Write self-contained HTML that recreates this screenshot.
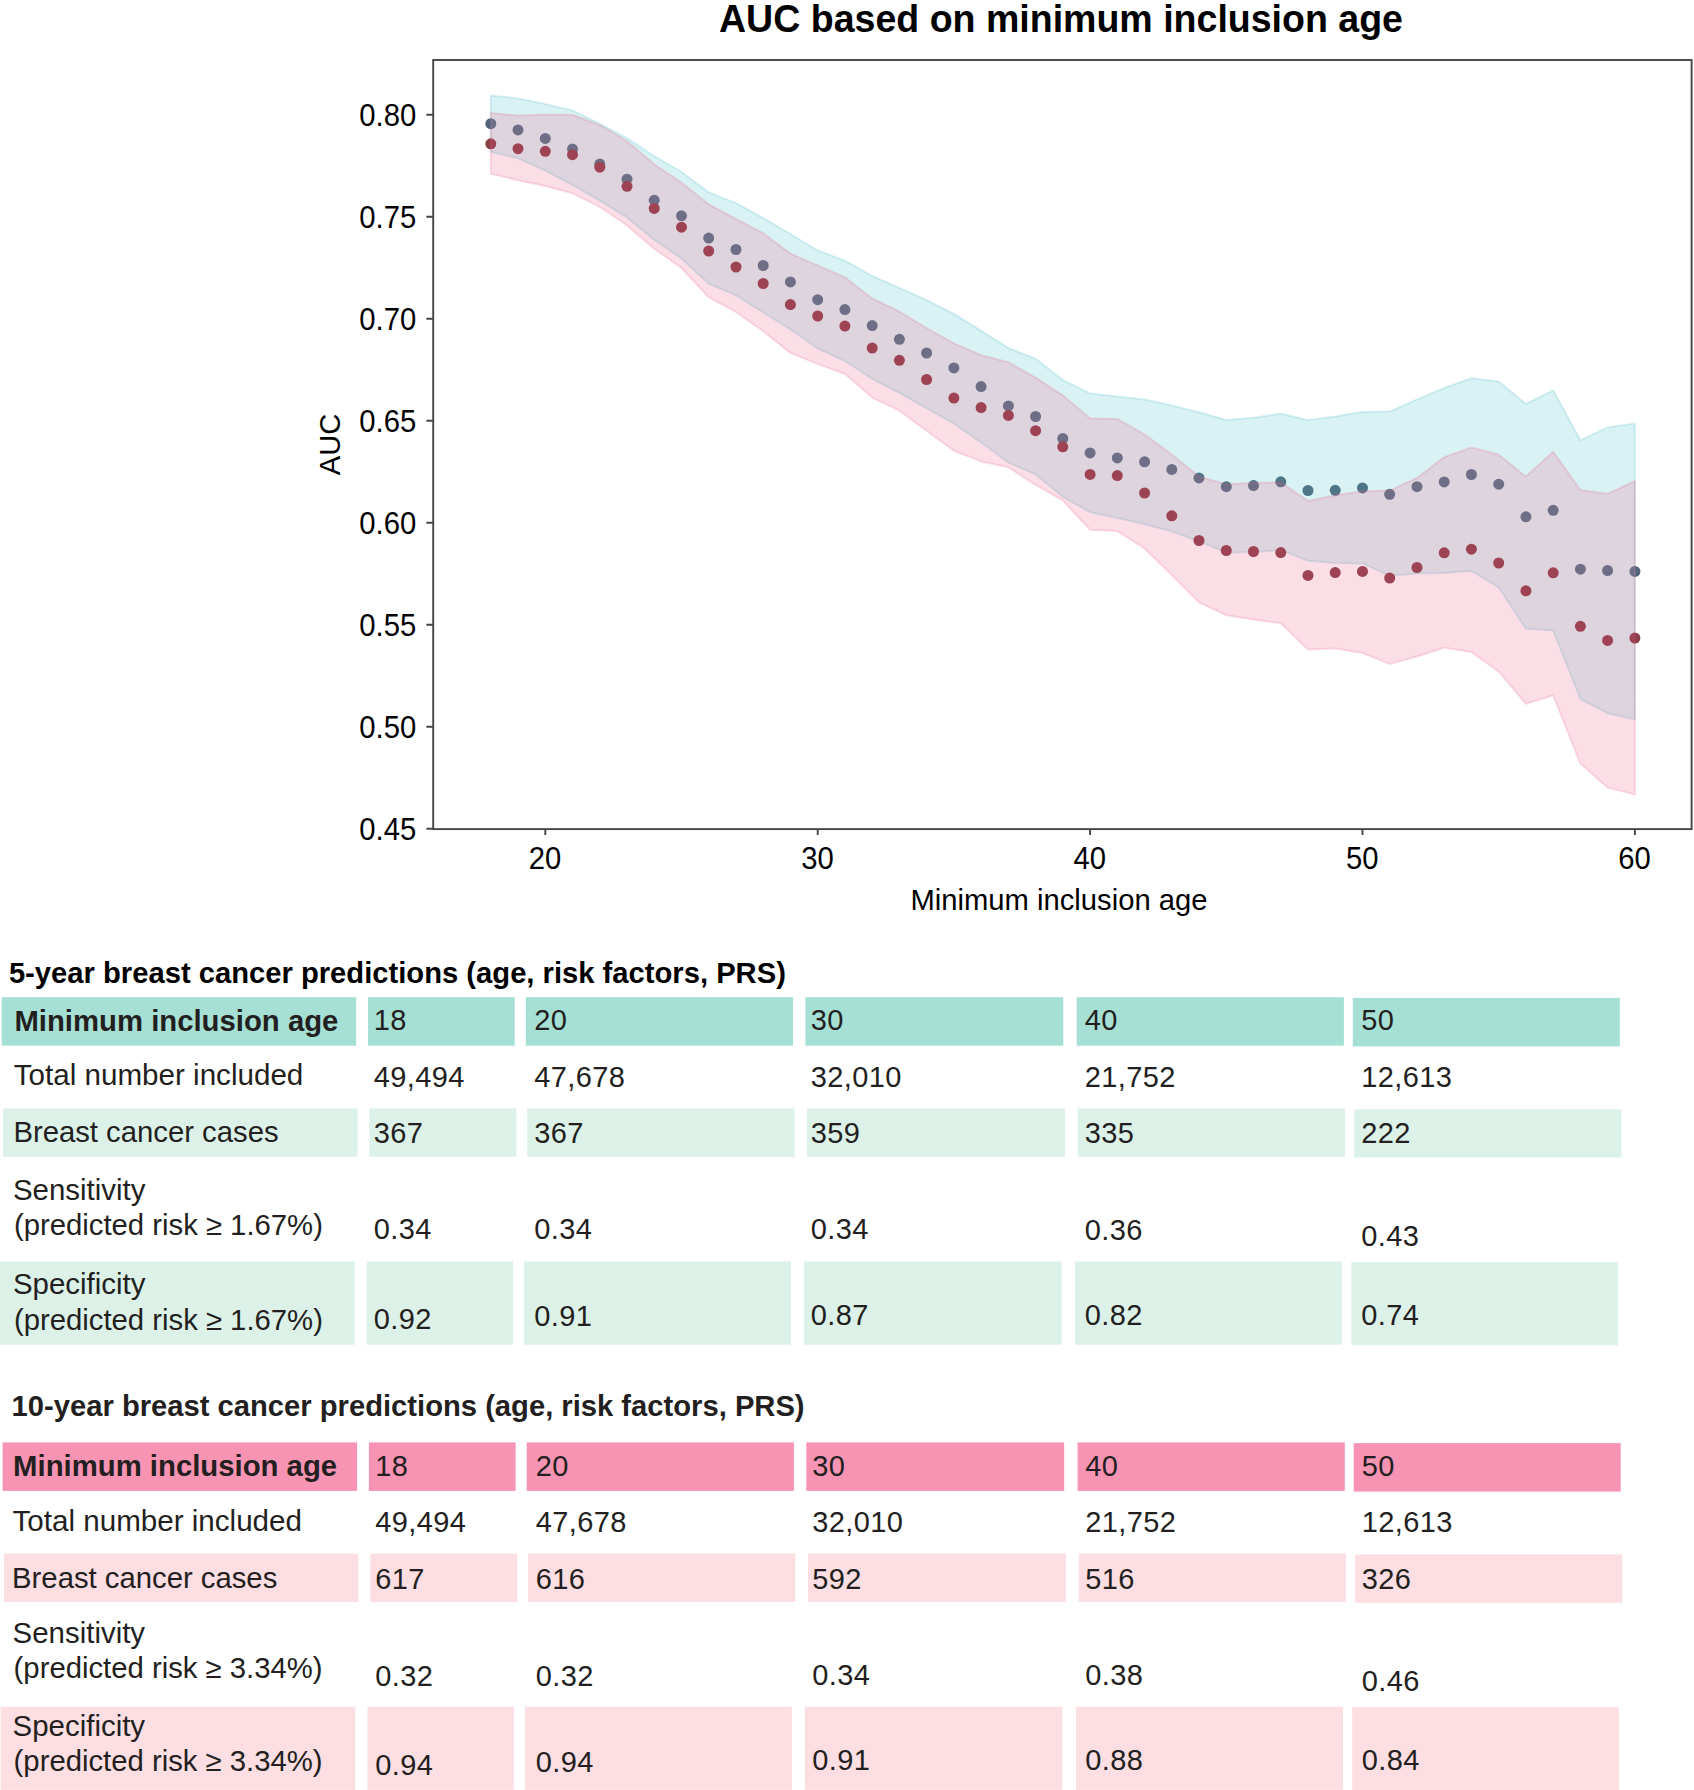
<!DOCTYPE html>
<html lang="en"><head><meta charset="utf-8"><title>AUC based on minimum inclusion age</title>
<style>html,body{margin:0;padding:0;background:#fff}svg{display:block}text{font-family:"Liberation Sans",sans-serif;fill:#231f20}.ax{font-size:30.5px;fill:#000}.tb{font-size:29px}.b{font-weight:bold}.tb.b{font-size:29.5px}</style></head><body>
<svg width="1694" height="1790" viewBox="0 0 1694 1790">
<rect width="1694" height="1790" fill="#fff"/>
<g id="chart">
<g fill="#526278"><circle cx="490.8" cy="123.7" r="5.5"/><circle cx="518.0" cy="129.9" r="5.5"/><circle cx="545.3" cy="138.4" r="5.5"/><circle cx="572.5" cy="149.1" r="5.5"/><circle cx="599.8" cy="164.1" r="5.5"/><circle cx="627.0" cy="179.2" r="5.5"/><circle cx="654.2" cy="200.3" r="5.5"/><circle cx="681.5" cy="215.8" r="5.5"/><circle cx="708.7" cy="238.1" r="5.5"/><circle cx="736.0" cy="249.5" r="5.5"/><circle cx="763.2" cy="265.5" r="5.5"/><circle cx="790.4" cy="281.9" r="5.5"/><circle cx="817.7" cy="299.7" r="5.5"/><circle cx="844.9" cy="309.6" r="5.5"/><circle cx="872.2" cy="325.6" r="5.5"/><circle cx="899.4" cy="339.3" r="5.5"/><circle cx="926.6" cy="353.0" r="5.5"/><circle cx="953.9" cy="367.9" r="5.5"/><circle cx="981.1" cy="386.6" r="5.5"/><circle cx="1008.4" cy="405.9" r="5.5"/><circle cx="1035.6" cy="416.5" r="5.5"/><circle cx="1062.8" cy="438.5" r="5.5"/><circle cx="1090.1" cy="452.9" r="5.5"/><circle cx="1117.3" cy="457.9" r="5.5"/><circle cx="1144.6" cy="461.8" r="5.5"/><circle cx="1171.8" cy="469.4" r="5.5"/><circle cx="1199.0" cy="477.9" r="5.5"/><circle cx="1226.3" cy="486.7" r="5.5"/><circle cx="1253.5" cy="485.6" r="5.5"/><circle cx="1280.8" cy="481.8" r="5.5"/><circle cx="1308.0" cy="490.5" r="5.5"/><circle cx="1335.2" cy="490.3" r="5.5"/><circle cx="1362.5" cy="487.9" r="5.5"/><circle cx="1389.7" cy="494.3" r="5.5"/><circle cx="1417.0" cy="486.7" r="5.5"/><circle cx="1444.2" cy="481.9" r="5.5"/><circle cx="1471.4" cy="474.5" r="5.5"/><circle cx="1498.7" cy="484.2" r="5.5"/><circle cx="1525.9" cy="516.8" r="5.5"/><circle cx="1553.2" cy="510.3" r="5.5"/><circle cx="1580.4" cy="569.2" r="5.5"/><circle cx="1607.6" cy="570.5" r="5.5"/><circle cx="1634.9" cy="571.4" r="5.5"/></g>
<polygon points="490.8,95.4 518.0,98.5 545.3,104.1 572.5,110.4 599.8,123.8 627.0,138.2 654.2,156.2 681.5,172.0 708.7,192.4 736.0,203.1 763.2,218.1 790.4,234.0 817.7,250.5 844.9,260.7 872.2,276.0 899.4,287.9 926.6,300.1 953.9,313.8 981.1,330.8 1008.4,348.1 1035.6,358.7 1062.8,379.9 1090.1,393.4 1117.3,396.5 1144.6,399.5 1171.8,405.4 1199.0,412.3 1226.3,420.0 1253.5,417.8 1280.8,413.7 1308.0,420.0 1335.2,416.4 1362.5,412.0 1389.7,411.6 1417.0,399.4 1444.2,388.1 1471.4,378.3 1498.7,381.5 1525.9,404.0 1553.2,390.4 1580.4,440.3 1607.6,427.4 1634.9,423.5 1634.9,719.4 1607.6,713.2 1580.4,699.0 1553.2,630.6 1525.9,628.8 1498.7,587.4 1471.4,571.0 1444.2,573.0 1417.0,573.5 1389.7,575.8 1362.5,563.4 1335.2,563.0 1308.0,560.7 1280.8,550.1 1253.5,551.9 1226.3,552.8 1199.0,541.2 1171.8,531.5 1144.6,524.2 1117.3,518.1 1090.1,512.2 1062.8,496.8 1035.6,474.4 1008.4,462.6 981.1,442.5 953.9,423.6 926.6,408.3 899.4,392.9 872.2,378.8 844.9,361.0 817.7,348.5 790.4,329.5 763.2,312.5 736.0,295.4 708.7,283.7 681.5,258.4 654.2,240.0 627.0,217.4 599.8,200.7 572.5,185.0 545.3,170.5 518.0,158.4 490.8,151.8" fill="#41c3c8" fill-opacity="0.2" stroke="#41b4c8" stroke-opacity="0.2" stroke-width="2" stroke-linejoin="round"/>
<g fill="#893e47"><circle cx="490.8" cy="143.8" r="5.5"/><circle cx="518.0" cy="148.7" r="5.5"/><circle cx="545.3" cy="151.3" r="5.5"/><circle cx="572.5" cy="154.7" r="5.5"/><circle cx="599.8" cy="167.2" r="5.5"/><circle cx="627.0" cy="186.3" r="5.5"/><circle cx="654.2" cy="208.4" r="5.5"/><circle cx="681.5" cy="227.2" r="5.5"/><circle cx="708.7" cy="251.0" r="5.5"/><circle cx="736.0" cy="267.0" r="5.5"/><circle cx="763.2" cy="283.5" r="5.5"/><circle cx="790.4" cy="304.6" r="5.5"/><circle cx="817.7" cy="316.0" r="5.5"/><circle cx="844.9" cy="326.1" r="5.5"/><circle cx="872.2" cy="348.1" r="5.5"/><circle cx="899.4" cy="360.3" r="5.5"/><circle cx="926.6" cy="379.5" r="5.5"/><circle cx="953.9" cy="398.1" r="5.5"/><circle cx="981.1" cy="407.6" r="5.5"/><circle cx="1008.4" cy="415.4" r="5.5"/><circle cx="1035.6" cy="430.7" r="5.5"/><circle cx="1062.8" cy="446.8" r="5.5"/><circle cx="1090.1" cy="474.4" r="5.5"/><circle cx="1117.3" cy="475.6" r="5.5"/><circle cx="1144.6" cy="493.0" r="5.5"/><circle cx="1171.8" cy="515.8" r="5.5"/><circle cx="1199.0" cy="540.5" r="5.5"/><circle cx="1226.3" cy="550.5" r="5.5"/><circle cx="1253.5" cy="551.5" r="5.5"/><circle cx="1280.8" cy="552.6" r="5.5"/><circle cx="1308.0" cy="575.4" r="5.5"/><circle cx="1335.2" cy="572.6" r="5.5"/><circle cx="1362.5" cy="571.4" r="5.5"/><circle cx="1389.7" cy="578.1" r="5.5"/><circle cx="1417.0" cy="567.5" r="5.5"/><circle cx="1444.2" cy="552.8" r="5.5"/><circle cx="1471.4" cy="549.2" r="5.5"/><circle cx="1498.7" cy="563.0" r="5.5"/><circle cx="1525.9" cy="590.8" r="5.5"/><circle cx="1553.2" cy="572.8" r="5.5"/><circle cx="1580.4" cy="626.3" r="5.5"/><circle cx="1607.6" cy="640.4" r="5.5"/><circle cx="1634.9" cy="638.1" r="5.5"/></g>
<polygon points="490.8,112.9 518.0,115.5 545.3,114.6 572.5,114.8 599.8,125.2 627.0,141.0 654.2,164.3 681.5,182.5 708.7,204.3 736.0,219.0 763.2,233.2 790.4,253.6 817.7,265.4 844.9,277.2 872.2,298.5 899.4,311.5 926.6,328.0 953.9,343.3 981.1,355.1 1008.4,362.2 1035.6,377.6 1062.8,395.3 1090.1,418.2 1117.3,418.9 1144.6,434.4 1171.8,454.5 1199.0,476.6 1226.3,484.2 1253.5,482.8 1280.8,482.3 1308.0,500.9 1335.2,495.2 1362.5,491.3 1389.7,490.4 1417.0,478.0 1444.2,457.1 1471.4,447.4 1498.7,454.5 1525.9,476.6 1553.2,451.8 1580.4,489.9 1607.6,493.8 1634.9,481.0 1634.9,794.6 1607.6,787.6 1580.4,763.6 1553.2,695.5 1525.9,703.8 1498.7,671.6 1471.4,652.1 1444.2,647.7 1417.0,656.5 1389.7,664.1 1362.5,653.0 1335.2,648.5 1308.0,649.6 1280.8,623.2 1253.5,619.6 1226.3,615.2 1199.0,602.4 1171.8,575.0 1144.6,548.5 1117.3,531.1 1090.1,529.9 1062.8,500.4 1035.6,485.0 1008.4,467.3 981.1,461.4 953.9,450.8 926.6,430.7 899.4,410.6 872.2,397.6 844.9,374.0 817.7,364.1 790.4,352.9 763.2,331.2 736.0,312.0 708.7,297.3 681.5,268.0 654.2,248.8 627.0,225.5 599.8,206.8 572.5,193.3 545.3,186.0 518.0,180.2 490.8,173.9" fill="#f05a87" fill-opacity="0.2" stroke="#e8608a" stroke-opacity="0.2" stroke-width="2" stroke-linejoin="round"/>
<rect x="433.2" y="60.0" width="1258.4" height="769.1" fill="none" stroke="#464646" stroke-width="1.9"/>
<path d="M426.4,114.8H433.2M426.4,216.8H433.2M426.4,318.8H433.2M426.4,420.8H433.2M426.4,522.8H433.2M426.4,624.8H433.2M426.4,726.8H433.2M426.4,828.8H433.2M545.3,829.1V835.1M817.7,829.1V835.1M1090.1,829.1V835.1M1362.5,829.1V835.1M1634.9,829.1V835.1" stroke="#464646" stroke-width="1.9" fill="none"/>
<text class="ax" x="416.3" y="125.7" text-anchor="end" textLength="57" lengthAdjust="spacingAndGlyphs">0.80</text>
<text class="ax" x="416.3" y="227.7" text-anchor="end" textLength="57" lengthAdjust="spacingAndGlyphs">0.75</text>
<text class="ax" x="416.3" y="329.7" text-anchor="end" textLength="57" lengthAdjust="spacingAndGlyphs">0.70</text>
<text class="ax" x="416.3" y="431.7" text-anchor="end" textLength="57" lengthAdjust="spacingAndGlyphs">0.65</text>
<text class="ax" x="416.3" y="533.7" text-anchor="end" textLength="57" lengthAdjust="spacingAndGlyphs">0.60</text>
<text class="ax" x="416.3" y="635.7" text-anchor="end" textLength="57" lengthAdjust="spacingAndGlyphs">0.55</text>
<text class="ax" x="416.3" y="737.7" text-anchor="end" textLength="57" lengthAdjust="spacingAndGlyphs">0.50</text>
<text class="ax" x="416.3" y="839.7" text-anchor="end" textLength="57" lengthAdjust="spacingAndGlyphs">0.45</text>
<text class="ax" x="545.0" y="869.0" text-anchor="middle" textLength="32.5" lengthAdjust="spacingAndGlyphs">20</text>
<text class="ax" x="817.4" y="869.0" text-anchor="middle" textLength="32.5" lengthAdjust="spacingAndGlyphs">30</text>
<text class="ax" x="1089.8" y="869.0" text-anchor="middle" textLength="32.5" lengthAdjust="spacingAndGlyphs">40</text>
<text class="ax" x="1362.2" y="869.0" text-anchor="middle" textLength="32.5" lengthAdjust="spacingAndGlyphs">50</text>
<text class="ax" x="1634.6" y="869.0" text-anchor="middle" textLength="32.5" lengthAdjust="spacingAndGlyphs">60</text>
<text class="ax" x="1059" y="909.8" text-anchor="middle" textLength="297" lengthAdjust="spacingAndGlyphs" style="font-size:30px">Minimum inclusion age</text>
<text class="ax" transform="translate(340.2,444.4) rotate(-90)" text-anchor="middle" textLength="61.5" lengthAdjust="spacingAndGlyphs" style="font-size:29.5px">AUC</text>
<text class="b" x="1061" y="32" text-anchor="middle" textLength="684" lengthAdjust="spacingAndGlyphs" style="font-size:38px;fill:#000">AUC based on minimum inclusion age</text>
</g>
<g>
<text class="b" x="8.9" y="982.7" textLength="777" lengthAdjust="spacingAndGlyphs" style="font-size:29.5px;fill:#000">5-year breast cancer predictions (age, risk factors, PRS)</text>
<rect x="1.7" y="997.2" width="354.5" height="48.5" fill="#a6e0d4"/>
<rect x="368.0" y="997.2" width="146.7" height="48.5" fill="#a6e0d4"/>
<rect x="525.8" y="997.2" width="267.2" height="48.5" fill="#a6e0d4"/>
<rect x="805.4" y="997.2" width="257.9" height="48.5" fill="#a6e0d4"/>
<rect x="1076.7" y="997.2" width="267.2" height="48.5" fill="#a6e0d4"/>
<rect x="1352.8" y="997.9" width="267.0" height="48.5" fill="#a6e0d4"/>
<rect x="3.1" y="1108.4" width="354.4" height="48.4" fill="#dcf2e9"/>
<rect x="369.5" y="1108.4" width="146.9" height="48.4" fill="#dcf2e9"/>
<rect x="527.2" y="1108.4" width="267.3" height="48.4" fill="#dcf2e9"/>
<rect x="807.0" y="1108.4" width="258.0" height="48.4" fill="#dcf2e9"/>
<rect x="1077.8" y="1108.4" width="267.2" height="48.4" fill="#dcf2e9"/>
<rect x="1354.2" y="1109.2" width="267.2" height="48.4" fill="#dcf2e9"/>
<rect x="0.0" y="1261.5" width="354.5" height="83.2" fill="#dcf2e9"/>
<rect x="366.6" y="1261.5" width="146.4" height="83.2" fill="#dcf2e9"/>
<rect x="524.1" y="1261.5" width="266.9" height="83.2" fill="#dcf2e9"/>
<rect x="803.9" y="1261.5" width="257.6" height="83.2" fill="#dcf2e9"/>
<rect x="1075.1" y="1261.5" width="267.0" height="83.2" fill="#dcf2e9"/>
<rect x="1351.3" y="1262.1" width="266.7" height="83.2" fill="#dcf2e9"/>
<text class="tb b" x="14.4" y="1030.9" textLength="324" lengthAdjust="spacingAndGlyphs">Minimum inclusion age</text>
<text class="tb" x="13.8" y="1085.3" textLength="289.5" lengthAdjust="spacingAndGlyphs">Total number included</text>
<text class="tb" x="13.4" y="1142.3" textLength="265.2" lengthAdjust="spacingAndGlyphs">Breast cancer cases</text>
<text class="tb" x="12.9" y="1200.1" textLength="132.5" lengthAdjust="spacingAndGlyphs">Sensitivity</text>
<text class="tb" x="13.9" y="1235.1" textLength="309" lengthAdjust="spacingAndGlyphs">(predicted risk ≥ 1.67%)</text>
<text class="tb" x="12.9" y="1294.1" textLength="132.5" lengthAdjust="spacingAndGlyphs">Specificity</text>
<text class="tb" x="13.9" y="1329.5" textLength="309" lengthAdjust="spacingAndGlyphs">(predicted risk ≥ 1.67%)</text>
<text class="tb" x="373.8" y="1030.0" style="letter-spacing:0.4px">18</text>
<text class="tb" x="373.8" y="1086.8" style="letter-spacing:0.4px">49,494</text>
<text class="tb" x="373.8" y="1143.3" style="letter-spacing:0.4px">367</text>
<text class="tb" x="373.8" y="1239.4" style="letter-spacing:0.4px">0.34</text>
<text class="tb" x="373.8" y="1328.8" style="letter-spacing:0.4px">0.92</text>
<text class="tb" x="534.2" y="1030.0" style="letter-spacing:0.4px">20</text>
<text class="tb" x="534.2" y="1086.8" style="letter-spacing:0.4px">47,678</text>
<text class="tb" x="534.2" y="1143.3" style="letter-spacing:0.4px">367</text>
<text class="tb" x="534.2" y="1239.4" style="letter-spacing:0.4px">0.34</text>
<text class="tb" x="534.2" y="1325.8" style="letter-spacing:0.4px">0.91</text>
<text class="tb" x="810.8" y="1030.0" style="letter-spacing:0.4px">30</text>
<text class="tb" x="810.8" y="1086.8" style="letter-spacing:0.4px">32,010</text>
<text class="tb" x="810.8" y="1143.3" style="letter-spacing:0.4px">359</text>
<text class="tb" x="810.8" y="1239.4" style="letter-spacing:0.4px">0.34</text>
<text class="tb" x="810.8" y="1325.0" style="letter-spacing:0.4px">0.87</text>
<text class="tb" x="1084.8" y="1030.0" style="letter-spacing:0.4px">40</text>
<text class="tb" x="1084.8" y="1086.8" style="letter-spacing:0.4px">21,752</text>
<text class="tb" x="1084.8" y="1143.3" style="letter-spacing:0.4px">335</text>
<text class="tb" x="1084.8" y="1239.8" style="letter-spacing:0.4px">0.36</text>
<text class="tb" x="1084.8" y="1324.8" style="letter-spacing:0.4px">0.82</text>
<text class="tb" x="1361.3" y="1030.0" style="letter-spacing:0.4px">50</text>
<text class="tb" x="1361.3" y="1086.8" style="letter-spacing:0.4px">12,613</text>
<text class="tb" x="1361.3" y="1143.3" style="letter-spacing:0.4px">222</text>
<text class="tb" x="1361.3" y="1245.6" style="letter-spacing:0.4px">0.43</text>
<text class="tb" x="1361.3" y="1324.8" style="letter-spacing:0.4px">0.74</text>
</g>
<g>
<text class="b" x="11.6" y="1415.7" textLength="793" lengthAdjust="spacingAndGlyphs" style="font-size:29.5px;fill:#231f20">10-year breast cancer predictions (age, risk factors, PRS)</text>
<rect x="2.6" y="1442.4" width="354.5" height="48.5" fill="#f794b3"/>
<rect x="368.9" y="1442.4" width="146.7" height="48.5" fill="#f794b3"/>
<rect x="526.7" y="1442.4" width="267.2" height="48.5" fill="#f794b3"/>
<rect x="806.3" y="1442.4" width="257.9" height="48.5" fill="#f794b3"/>
<rect x="1077.6" y="1442.4" width="267.2" height="48.5" fill="#f794b3"/>
<rect x="1353.7" y="1443.1" width="267.0" height="48.5" fill="#f794b3"/>
<rect x="4.0" y="1553.6" width="354.4" height="48.4" fill="#fddee2"/>
<rect x="370.4" y="1553.6" width="146.9" height="48.4" fill="#fddee2"/>
<rect x="528.1" y="1553.6" width="267.3" height="48.4" fill="#fddee2"/>
<rect x="807.9" y="1553.6" width="258.0" height="48.4" fill="#fddee2"/>
<rect x="1078.7" y="1553.6" width="267.2" height="48.4" fill="#fddee2"/>
<rect x="1355.1" y="1554.4" width="267.2" height="48.4" fill="#fddee2"/>
<rect x="0.6" y="1706.7" width="354.8" height="83.2" fill="#fddee2"/>
<rect x="367.5" y="1706.7" width="146.4" height="83.2" fill="#fddee2"/>
<rect x="525.0" y="1706.7" width="266.9" height="83.2" fill="#fddee2"/>
<rect x="804.8" y="1706.7" width="257.6" height="83.2" fill="#fddee2"/>
<rect x="1076.0" y="1706.7" width="267.0" height="83.2" fill="#fddee2"/>
<rect x="1352.2" y="1707.3" width="266.7" height="83.2" fill="#fddee2"/>
<text class="tb b" x="13.1" y="1475.8" textLength="324" lengthAdjust="spacingAndGlyphs">Minimum inclusion age</text>
<text class="tb" x="12.5" y="1530.9" textLength="289.5" lengthAdjust="spacingAndGlyphs">Total number included</text>
<text class="tb" x="12.1" y="1587.8" textLength="265.2" lengthAdjust="spacingAndGlyphs">Breast cancer cases</text>
<text class="tb" x="12.6" y="1643.1" textLength="132.5" lengthAdjust="spacingAndGlyphs">Sensitivity</text>
<text class="tb" x="13.6" y="1678.1" textLength="309" lengthAdjust="spacingAndGlyphs">(predicted risk ≥ 3.34%)</text>
<text class="tb" x="12.6" y="1735.7" textLength="132.5" lengthAdjust="spacingAndGlyphs">Specificity</text>
<text class="tb" x="13.6" y="1771.3" textLength="309" lengthAdjust="spacingAndGlyphs">(predicted risk ≥ 3.34%)</text>
<text class="tb" x="375.3" y="1476.1" style="letter-spacing:0.4px">18</text>
<text class="tb" x="375.3" y="1532.4" style="letter-spacing:0.4px">49,494</text>
<text class="tb" x="375.3" y="1588.7" style="letter-spacing:0.4px">617</text>
<text class="tb" x="375.3" y="1685.6" style="letter-spacing:0.4px">0.32</text>
<text class="tb" x="375.3" y="1775.2" style="letter-spacing:0.4px">0.94</text>
<text class="tb" x="535.7" y="1476.1" style="letter-spacing:0.4px">20</text>
<text class="tb" x="535.7" y="1532.4" style="letter-spacing:0.4px">47,678</text>
<text class="tb" x="535.7" y="1588.7" style="letter-spacing:0.4px">616</text>
<text class="tb" x="535.7" y="1685.6" style="letter-spacing:0.4px">0.32</text>
<text class="tb" x="535.7" y="1771.6" style="letter-spacing:0.4px">0.94</text>
<text class="tb" x="812.3" y="1476.1" style="letter-spacing:0.4px">30</text>
<text class="tb" x="812.3" y="1532.4" style="letter-spacing:0.4px">32,010</text>
<text class="tb" x="812.3" y="1588.7" style="letter-spacing:0.4px">592</text>
<text class="tb" x="812.3" y="1685.0" style="letter-spacing:0.4px">0.34</text>
<text class="tb" x="812.3" y="1770.1" style="letter-spacing:0.4px">0.91</text>
<text class="tb" x="1085.3" y="1476.1" style="letter-spacing:0.4px">40</text>
<text class="tb" x="1085.3" y="1532.4" style="letter-spacing:0.4px">21,752</text>
<text class="tb" x="1085.3" y="1588.7" style="letter-spacing:0.4px">516</text>
<text class="tb" x="1085.3" y="1685.0" style="letter-spacing:0.4px">0.38</text>
<text class="tb" x="1085.3" y="1770.1" style="letter-spacing:0.4px">0.88</text>
<text class="tb" x="1361.8" y="1476.1" style="letter-spacing:0.4px">50</text>
<text class="tb" x="1361.8" y="1532.4" style="letter-spacing:0.4px">12,613</text>
<text class="tb" x="1361.8" y="1588.7" style="letter-spacing:0.4px">326</text>
<text class="tb" x="1361.8" y="1691.2" style="letter-spacing:0.4px">0.46</text>
<text class="tb" x="1361.8" y="1770.1" style="letter-spacing:0.4px">0.84</text>
</g>
</svg></body></html>
